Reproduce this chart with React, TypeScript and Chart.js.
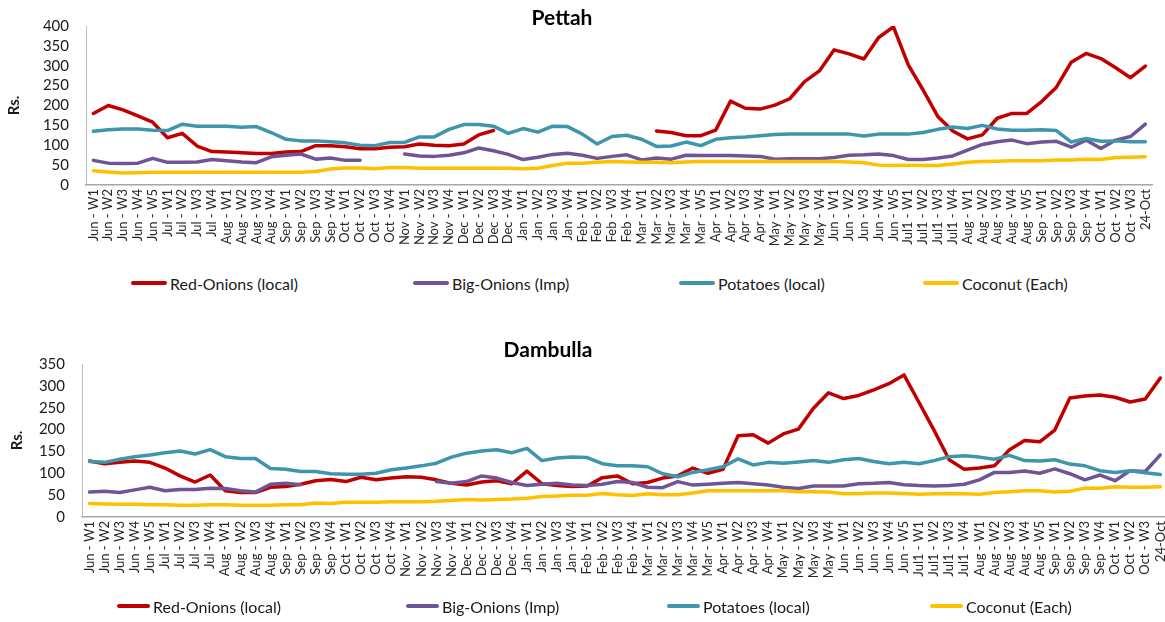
import React, { useEffect, useRef } from "react";
import { Chart, registerables } from "chart.js";

Chart.register(...registerables);

const FONT = "Lato, 'Liberation Sans', sans-serif";

const weekLabels: string[] = [
  "Jun - W1", "Jun - W2", "Jun - W3", "Jun - W4", "Jun - W5",
  "Jul - W1", "Jul - W2", "Jul - W3", "Jul - W4",
  "Aug - W1", "Aug - W2", "Aug - W3", "Aug - W4",
  "Sep - W1", "Sep - W2", "Sep - W3", "Sep - W4",
  "Oct - W1", "Oct - W2", "Oct - W3", "Oct - W4",
  "Nov - W1", "Nov - W2", "Nov - W3", "Nov - W4",
  "Dec - W1", "Dec - W2", "Dec - W3", "Dec - W4",
  "Jan - W1", "Jan - W2", "Jan - W3", "Jan - W4",
  "Feb - W1", "Feb - W2", "Feb - W3", "Feb - W4",
  "Mar - W1", "Mar - W2", "Mar - W3", "Mar - W4", "Mar - W5",
  "Apr - W1", "Apr - W2", "Apr - W3", "Apr - W4",
  "May - W1", "May - W2", "May - W3", "May - W4",
  "Jun - W1", "Jun - W2", "Jun - W3", "Jun - W4", "Jun - W5",
  "Jul1 - W1", "Jul1 - W2", "Jul1 - W3", "Jul1 - W4",
  "Aug - W1", "Aug - W2", "Aug - W3", "Aug - W4", "Aug - W5",
  "Sep - W1", "Sep - W2", "Sep - W3", "Sep - W4",
  "Oct - W1", "Oct - W2", "Oct - W3", "24-Oct",
];

const seriesNames = ["Red-Onions (local)", "Big-Onions (Imp)", "Potatoes (local)", "Coconut (Each)"];
const seriesColors = ["#C00000", "#6F5597", "#3D96AB", "#FFC000"];

// ---- Pettah ----
const pettahRedOnions: (number | null)[] = [
  180, 200, 189, 174, 158, 119, 130, 98, 84, 83, 81, 79, 79, 83, 84, 99, 99, 96, 91, 91, 95,
  96, 103, 100, 99, 103, 126, 137,
  null, null, null, null, null, null, null, null, null, null,
  136, 132, 124, 124, 138, 211, 193, 191, 201, 217,
  260, 287, 340, 330, 317, 371, 398, 302, 239, 172, 136, 116, 126, 168, 180, 180, 210, 246, 309, 331, 318, 295, 270, 299,
];
const pettahBigOnions: (number | null)[] = [
  62, 55, 54, 55, 67, 57, 57, 58, 64, 61, 58, 56, 71, 75, 78, 65, 68, 62, 62,
  null, null,
  78, 73, 72, 75, 81, 93, 86, 77, 64, 70, 77, 80, 75, 67, 72, 76, 63, 68, 65, 75, 74, 74, 74, 73, 72, 65, 66,
  66, 66, 69, 75, 76, 78, 74, 64, 64, 68, 73, 88, 102, 109, 113, 104, 108, 110, 95, 113, 92, 113, 122, 153,
];
const pettahPotatoes: (number | null)[] = [
  135, 139, 141, 141, 138, 137, 153, 148, 148, 148, 145, 147, 132, 115, 111, 111, 109, 106, 100, 99, 107,
  107, 121, 121, 140, 152, 152, 148, 130, 142, 133, 148, 147, 128, 103, 122, 125, 115, 97, 98, 108, 99, 115, 119, 121, 124, 127, 128,
  128, 128, 128, 128, 123, 128, 128, 128, 132, 140, 146, 142, 150, 141, 138, 138, 139, 137, 108, 117, 110, 111, 109, 109,
];
const pettahCoconut: (number | null)[] = [
  36, 33, 30, 31, 32, 32, 32, 32, 32, 32, 32, 32, 32, 32, 32, 34, 40, 43, 43, 41, 44,
  44, 42, 42, 42, 42, 42, 42, 42, 41, 42, 49, 55, 55, 57, 59, 58, 57, 57, 56, 58, 59, 59, 59, 59, 59, 59, 59,
  59, 59, 59, 58, 56, 50, 49, 50, 49, 49, 53, 57, 59, 60, 61, 61, 61, 63, 63, 65, 64, 69, 70, 71,
];

// ---- Dambulla ----
const dambullaRedOnions: (number | null)[] = [
  128, 122, 125, 128, 125, 112, 94, 80, 96, 60, 56, 56, 68, 70, 75, 83, 86, 81, 91, 85, 89,
  92, 91, 85, 77, 73, 80, 83, 76, 105, 76, 72, 70, 71, 90, 94, 76, 79, 89, 94, 112, 100, 109, 186, 188, 169, 190, 201,
  249, 284, 271, 278, 291, 305, 325, 262, 198, 131, 109, 112, 117, 154, 175, 172, 199, 272, 277, 279, 274, 263, 270, 318,
];
const dambullaBigOnions: (number | null)[] = [
  57, 59, 56, 62, 68, 60, 63, 63, 66, 65, 60, 57, 75, 77, 74,
  null, null, null, null, null, null, null, null,
  81, 77, 81, 94, 89, 79, 72, 75, 77, 73, 72, 75, 81, 79, 68, 67, 81, 73, 75, 77, 79, 76, 73, 68, 65,
  71, 71, 71, 76, 77, 79, 74, 72, 71, 72, 75, 85, 102, 102, 105, 100, 110, 99, 85, 96, 83, 106, 104, 142,
];
const dambullaPotatoes: (number | null)[] = [
  127, 125, 132, 138, 142, 147, 151, 144, 154, 138, 134, 134, 111, 109, 104, 104, 99, 98, 98, 100, 108,
  112, 117, 123, 137, 146, 151, 154, 147, 157, 129, 135, 137, 136, 122, 117, 117, 115, 99, 92, 102, 108, 115, 133, 119, 125, 123, 126,
  129, 125, 131, 134, 127, 122, 125, 122, 129, 138, 140, 137, 132, 141, 129, 128, 131, 121, 117, 106, 102, 106, 101, 97,
];
const dambullaCoconut: (number | null)[] = [
  31, 30, 29, 29, 28, 28, 27, 27, 28, 28, 27, 27, 27, 28, 28, 32, 31, 34, 34, 34, 35,
  35, 35, 36, 38, 40, 39, 40, 41, 43, 47, 48, 50, 50, 54, 51, 49, 53, 51, 51, 55, 60, 60, 60, 60, 60, 60, 58,
  58, 57, 53, 54, 55, 55, 54, 52, 53, 54, 53, 52, 56, 58, 60, 60, 57, 59, 66, 66, 69, 68, 68, 69,
];

const pettahYMax = 400;
const dambullaYMax = 350;
const yStep = 50;

type PanelProps = {
  series: (number | null)[][];
  yMax: number;
  width: number;
  height: number;
  padTop: number;
  padRight: number;
  yAxisWidth: number;
  xAxisHeight: number;
  titlePad: number;
};

function PriceChart(p: PanelProps) {
  const ref = useRef<HTMLCanvasElement>(null);
  useEffect(() => {
    if (!ref.current) return;
    const chart = new Chart(ref.current, {
      type: "line",
      data: {
        labels: weekLabels,
        datasets: p.series.map((d, i) => ({
          label: seriesNames[i],
          data: d,
          borderColor: seriesColors[i],
          backgroundColor: seriesColors[i],
          borderWidth: 3.5,
          pointRadius: 0,
          pointHoverRadius: 0,
          tension: 0,
          spanGaps: false,
          borderJoinStyle: "round" as const,
          borderCapStyle: "round" as const,
          order: 4 - i,
        })),
      },
      options: {
        responsive: false,
        animation: false,
        layout: { padding: { top: p.padTop, right: p.padRight, bottom: 0, left: 0 } },
        plugins: {
          legend: { display: false },
          tooltip: { enabled: false },
          title: { display: false },
        },
        scales: {
          x: {
            type: "category",
            offset: true,
            grid: { display: false, drawTicks: false },
            border: { display: true, color: "#A6A6A6", width: 1.5 },
            ticks: {
              autoSkip: false,
              maxRotation: 90,
              minRotation: 90,
              padding: 4,
              font: { family: FONT, size: 13 },
              color: "#262626",
            },
            afterFit: (s: any) => {
              s.height = p.xAxisHeight;
            },
          },
          y: {
            min: 0,
            max: p.yMax,
            grid: { display: false, drawTicks: false },
            border: { display: true, color: "#BFBFBF", width: 1 },
            ticks: {
              stepSize: yStep,
              autoSkip: false,
              padding: 17,
              font: { family: FONT, size: 15 },
              color: "#1a1a1a",
            },
            title: {
              display: true,
              text: "Rs.",
              font: { family: FONT, size: 15, weight: "bold" },
              color: "#1a1a1a",
              padding: { top: p.titlePad, bottom: 0 },
            },
            afterFit: (s: any) => {
              s.width = p.yAxisWidth;
            },
          },
        },
      },
    });
    return () => chart.destroy();
  }, []);
  return <canvas ref={ref} width={p.width} height={p.height} style={{ display: "block" }} />;
}

function Legend({ top, lefts, lineWidth }: { top: number; lefts: number[]; lineWidth: number }) {
  return (
    <>
      {seriesNames.map((name, i) => (
        <div
          key={name}
          style={{
            position: "absolute",
            top: top - 10,
            left: lefts[i],
            height: 20,
            display: "flex",
            alignItems: "center",
            whiteSpace: "nowrap",
            fontFamily: FONT,
            fontSize: 16,
            color: "#1a1a1a",
          }}
        >
          <span
            style={{
              display: "inline-block",
              width: lineWidth,
              height: 4,
              borderRadius: 2,
              background: seriesColors[i],
              marginRight: 3,
            }}
          />
          <span>{name}</span>
        </div>
      ))}
    </>
  );
}

export default function App() {
  return (
    <div
      style={{
        position: "absolute",
        left: 0,
        top: 0,
        width: 1165,
        height: 622,
        overflow: "hidden",
        background: "#fff",
      }}
    >
      <div style={{ position: "absolute", left: 0, top: 0 }}>
        <PriceChart
          series={[pettahRedOnions, pettahBigOnions, pettahPotatoes, pettahCoconut]}
          yMax={pettahYMax}
          width={1165}
          height={268}
          padTop={26}
          padRight={9}
          yAxisWidth={86}
          xAxisHeight={83}
          titlePad={5}
        />
      </div>
      <div
        style={{
          position: "absolute",
          left: 462,
          top: 4,
          width: 200,
          textAlign: "center",
          fontFamily: FONT,
          fontWeight: "bold",
          fontSize: 21,
          lineHeight: "26px",
          color: "#000",
        }}
      >
        Pettah
      </div>
      <Legend top={283} lefts={[131, 413, 679, 923]} lineWidth={36} />

      <div style={{ position: "absolute", left: 0, top: 330 }}>
        <PriceChart
          series={[dambullaRedOnions, dambullaBigOnions, dambullaPotatoes, dambullaCoconut]}
          yMax={dambullaYMax}
          width={1180}
          height={270}
          padTop={34}
          padRight={9}
          yAxisWidth={82}
          xAxisHeight={83}
          titlePad={8}
        />
      </div>
      <div
        style={{
          position: "absolute",
          left: 448,
          top: 336,
          width: 200,
          textAlign: "center",
          fontFamily: FONT,
          fontWeight: "bold",
          fontSize: 21,
          lineHeight: "26px",
          color: "#000",
        }}
      >
        Dambulla
      </div>
      <Legend top={606} lefts={[117, 406, 667, 930]} lineWidth={33} />
    </div>
  );
}
